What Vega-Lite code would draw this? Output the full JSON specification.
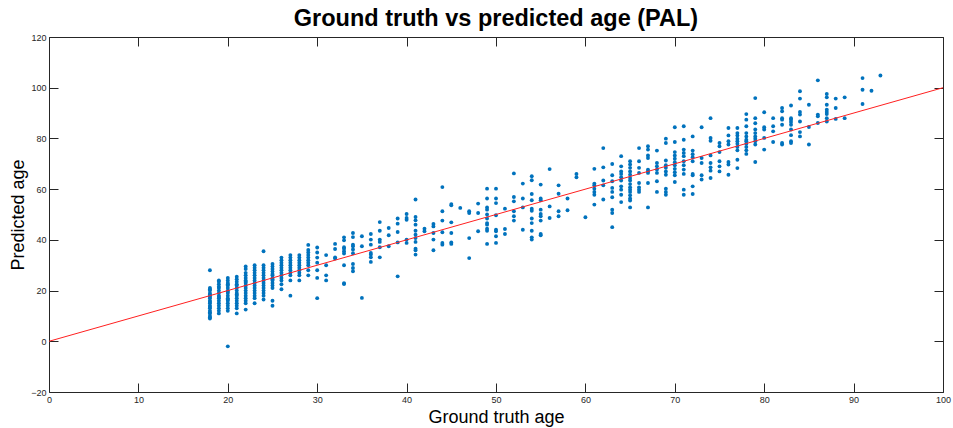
{
"$schema": "https://vega.github.io/schema/vega-lite/v6.json",
"width": 894, "height": 355,
"autosize": {"type": "none"},
"padding": {"left": 49, "top": 37, "right": 10, "bottom": 36},
"background": "white",
"title": {"text": "Ground truth vs predicted age (PAL)", "font": "Liberation Sans", "fontSize": 23.5, "fontWeight": "bold", "color": "black", "anchor": "middle", "offset": 3},
"config": {
  "view": {"stroke": "#262626", "strokeWidth": 1},
  "axis": {"grid": false, "domain": false, "tickColor": "#262626", "labelColor": "#262626", "labelFont": "Liberation Sans", "labelFontSize": 9, "labelFlush": false, "labelOverlap": false, "titleFont": "Liberation Sans", "titleFontSize": 18, "titleFontWeight": "normal", "titleColor": "black", "tickSize": -9}
},
"layer": [
  {
    "data": {"values": [
{"a":18,"p":28},{"a":18,"p":21},{"a":18,"p":20.5},{"a":18,"p":20},{"a":18,"p":19},{"a":18,"p":18.5},{"a":18,"p":18},{"a":18,"p":17.5},{"a":18,"p":17},{"a":18,"p":16},{"a":18,"p":15.5},{"a":18,"p":15},{"a":18,"p":14},{"a":18,"p":13.5},{"a":18,"p":13},{"a":18,"p":12},{"a":18,"p":11.5},{"a":18,"p":11},{"a":18,"p":10},{"a":18,"p":9.5},{"a":18,"p":9},
{"a":19,"p":24},{"a":19,"p":23.5},{"a":19,"p":22.5},{"a":19,"p":21.5},{"a":19,"p":21},{"a":19,"p":20},{"a":19,"p":19},{"a":19,"p":18},{"a":19,"p":17.5},{"a":19,"p":17},{"a":19,"p":16},{"a":19,"p":15},{"a":19,"p":14},{"a":19,"p":13},{"a":19,"p":12},{"a":19,"p":11},
{"a":20,"p":25},{"a":20,"p":24},{"a":20,"p":23},{"a":20,"p":22.5},{"a":20,"p":22},{"a":20,"p":21},{"a":20,"p":20},{"a":20,"p":19.5},{"a":20,"p":19},{"a":20,"p":18},{"a":20,"p":17},{"a":20,"p":16.5},{"a":20,"p":16},{"a":20,"p":15},{"a":20,"p":14},{"a":20,"p":13},{"a":20,"p":12},{"a":20,"p":-2},
{"a":21,"p":25.5},{"a":21,"p":24.5},{"a":21,"p":23.5},{"a":21,"p":22.5},{"a":21,"p":22},{"a":21,"p":21},{"a":21,"p":20},{"a":21,"p":19},{"a":21,"p":18.5},{"a":21,"p":18},{"a":21,"p":17},{"a":21,"p":16},{"a":21,"p":15},{"a":21,"p":14},{"a":21,"p":13},{"a":21,"p":11},
{"a":22,"p":29.5},{"a":22,"p":28.5},{"a":22,"p":27},{"a":22,"p":26},{"a":22,"p":25},{"a":22,"p":24},{"a":22,"p":23.5},{"a":22,"p":23},{"a":22,"p":22},{"a":22,"p":21},{"a":22,"p":20},{"a":22,"p":19},{"a":22,"p":18},{"a":22,"p":17},{"a":22,"p":16},{"a":22,"p":15},{"a":22,"p":12.5},
{"a":23,"p":30},{"a":23,"p":29},{"a":23,"p":28},{"a":23,"p":27},{"a":23,"p":26},{"a":23,"p":25},{"a":23,"p":24},{"a":23,"p":23},{"a":23,"p":22},{"a":23,"p":21},{"a":23,"p":20},{"a":23,"p":19},{"a":23,"p":18},{"a":23,"p":17},{"a":23,"p":15},
{"a":24,"p":35.5},{"a":24,"p":30},{"a":24,"p":29},{"a":24,"p":28},{"a":24,"p":27},{"a":24,"p":26},{"a":24,"p":25},{"a":24,"p":24},{"a":24,"p":23},{"a":24,"p":22},{"a":24,"p":21},{"a":24,"p":20},{"a":24,"p":19},{"a":24,"p":18},{"a":24,"p":16.5},
{"a":25,"p":30.5},{"a":25,"p":29.5},{"a":25,"p":28.5},{"a":25,"p":27.5},{"a":25,"p":26.5},{"a":25,"p":26},{"a":25,"p":25},{"a":25,"p":24.5},{"a":25,"p":24},{"a":25,"p":23},{"a":25,"p":22},{"a":25,"p":21},{"a":25,"p":16},{"a":25,"p":14},
{"a":26,"p":33},{"a":26,"p":32},{"a":26,"p":31},{"a":26,"p":30},{"a":26,"p":29},{"a":26,"p":28},{"a":26,"p":27},{"a":26,"p":26},{"a":26,"p":25},{"a":26,"p":24},{"a":26,"p":22.5},{"a":26,"p":20.5},
{"a":27,"p":34},{"a":27,"p":33},{"a":27,"p":32},{"a":27,"p":31},{"a":27,"p":30},{"a":27,"p":29},{"a":27,"p":28},{"a":27,"p":27},{"a":27,"p":26},{"a":27,"p":24},{"a":27,"p":18},
{"a":28,"p":34},{"a":28,"p":33},{"a":28,"p":32},{"a":28,"p":31},{"a":28,"p":30},{"a":28,"p":29},{"a":28,"p":28},{"a":28,"p":27},{"a":28,"p":26},{"a":28,"p":24},
{"a":29,"p":38},{"a":29,"p":36},{"a":29,"p":35},{"a":29,"p":34},{"a":29,"p":33},{"a":29,"p":32},{"a":29,"p":31},{"a":29,"p":30},{"a":29,"p":28},{"a":29,"p":26},
{"a":30,"p":37},{"a":30,"p":35},{"a":30,"p":33},{"a":30,"p":31},{"a":30,"p":28},{"a":30,"p":25},{"a":30,"p":17},
{"a":31,"p":34},{"a":31,"p":30},{"a":31,"p":26},{"a":31,"p":24},
{"a":32,"p":38.4},{"a":32,"p":36.4},{"a":32,"p":33.1},{"a":32,"p":32.6},
{"a":33,"p":41},{"a":33,"p":39.8},{"a":33,"p":37.1},{"a":33,"p":36.5},{"a":33,"p":35.5},{"a":33,"p":34.6},{"a":33,"p":30},{"a":33,"p":22.9},{"a":33,"p":22.6},
{"a":34,"p":42.7},{"a":34,"p":41.1},{"a":34,"p":38.1},{"a":34,"p":37.5},{"a":34,"p":36.2},{"a":34,"p":34.7},{"a":34,"p":30.5},{"a":34,"p":28.9},{"a":34,"p":27.6},
{"a":35,"p":41.4},{"a":35,"p":37.5},{"a":35,"p":17.1},
{"a":36,"p":42.3},{"a":36,"p":40.1},{"a":36,"p":38.1},{"a":36,"p":34.8},{"a":36,"p":34.2},{"a":36,"p":33.1},{"a":36,"p":31.3},
{"a":37,"p":47},{"a":37,"p":43.6},{"a":37,"p":40.1},{"a":37,"p":39.2},{"a":37,"p":37.1},{"a":37,"p":33.1},
{"a":38,"p":44.7},{"a":38,"p":41.8},{"a":38,"p":37.5},
{"a":39,"p":48.4},{"a":39,"p":46.4},{"a":39,"p":43.1},{"a":39,"p":39},{"a":39,"p":25.6},
{"a":40,"p":50.2},{"a":40,"p":48.6},{"a":40,"p":47.9},{"a":40,"p":40.1},{"a":40,"p":38.8},
{"a":41,"p":55.9},{"a":41,"p":49},{"a":41,"p":47.7},{"a":41,"p":46},{"a":41,"p":43.6},{"a":41,"p":42},{"a":41,"p":40.7},{"a":41,"p":39.2},{"a":41,"p":36.5},{"a":41,"p":35.9},{"a":41,"p":34.2},
{"a":42,"p":44.4},{"a":42,"p":43.4},
{"a":43,"p":46.3},{"a":43,"p":45.3},{"a":43,"p":42.7},{"a":43,"p":40.1},{"a":43,"p":35.9},
{"a":44,"p":60.8},{"a":44,"p":51.3},{"a":44,"p":47.6},{"a":44,"p":43},{"a":44,"p":38.8},{"a":44,"p":38.1},
{"a":45,"p":54.1},{"a":45,"p":53.6},{"a":45,"p":46.9},{"a":45,"p":42.7},{"a":45,"p":39},{"a":45,"p":38.4},
{"a":46,"p":52.6},
{"a":47,"p":51.3},{"a":47,"p":50.6},{"a":47,"p":40.7},{"a":47,"p":32.8},
{"a":48,"p":54.3},{"a":48,"p":50.6},{"a":48,"p":43.4},
{"a":49,"p":60.2},{"a":49,"p":56.3},{"a":49,"p":52.8},{"a":49,"p":51.9},{"a":49,"p":50},{"a":49,"p":48.4},{"a":49,"p":46.6},{"a":49,"p":46},{"a":49,"p":44.4},{"a":49,"p":43.6},{"a":49,"p":38.4},
{"a":50,"p":60.2},{"a":50,"p":56.3},{"a":50,"p":54.5},{"a":50,"p":49.7},{"a":50,"p":44},{"a":50,"p":43.4},{"a":50,"p":41.4},{"a":50,"p":38.8},
{"a":51,"p":52.3},{"a":51,"p":44.3},{"a":51,"p":42.3},
{"a":52,"p":66.2},{"a":52,"p":56.9},{"a":52,"p":55.2},{"a":52,"p":51.3},{"a":52,"p":49.3},{"a":52,"p":47.6},
{"a":53,"p":62.2},{"a":53,"p":56.3},{"a":53,"p":52.8},{"a":53,"p":44},
{"a":54,"p":65.1},{"a":54,"p":63.5},{"a":54,"p":58.1},{"a":54,"p":55.6},{"a":54,"p":52.3},{"a":54,"p":51.5},{"a":54,"p":48.4},{"a":54,"p":46.6},{"a":54,"p":43.6},{"a":54,"p":41},{"a":54,"p":40.1},
{"a":55,"p":61.8},{"a":55,"p":56.3},{"a":55,"p":55.6},{"a":55,"p":51.9},{"a":55,"p":50.2},{"a":55,"p":49.3},{"a":55,"p":47.6},{"a":55,"p":42.3},{"a":55,"p":41.8},
{"a":56,"p":67.9},{"a":56,"p":53.2},{"a":56,"p":48.6},
{"a":57,"p":61.5},{"a":57,"p":58.2},{"a":57,"p":51.3},{"a":57,"p":49.3},
{"a":58,"p":56.3},{"a":58,"p":51.7},
{"a":59,"p":66},{"a":59,"p":64.7},
{"a":60,"p":48.9},
{"a":61,"p":68},{"a":61,"p":62.2},{"a":61,"p":61.5},{"a":61,"p":60.2},{"a":61,"p":58.9},{"a":61,"p":57.8},{"a":61,"p":53.9},
{"a":62,"p":76.2},{"a":62,"p":68.6},{"a":62,"p":63.4},{"a":62,"p":61.5},{"a":62,"p":55.9},
{"a":63,"p":69.9},{"a":63,"p":65.5},{"a":63,"p":63.1},{"a":63,"p":60.5},{"a":63,"p":58.9},{"a":63,"p":56.8},{"a":63,"p":51.9},{"a":63,"p":50.6},{"a":63,"p":45},
{"a":64,"p":73},{"a":64,"p":69},{"a":64,"p":67},{"a":64,"p":66},{"a":64,"p":64.7},{"a":64,"p":63.4},{"a":64,"p":61.1},{"a":64,"p":59.8},{"a":64,"p":57.8},{"a":64,"p":54.9},
{"a":65,"p":71},{"a":65,"p":69.7},{"a":65,"p":68.4},{"a":65,"p":67},{"a":65,"p":65.7},{"a":65,"p":64.4},{"a":65,"p":63.4},{"a":65,"p":62},{"a":65,"p":60.7},{"a":65,"p":59.8},{"a":65,"p":58.9},{"a":65,"p":57.6},{"a":65,"p":56.3},{"a":65,"p":55.5},{"a":65,"p":52.8},
{"a":66,"p":76.2},{"a":66,"p":71},{"a":66,"p":68.4},{"a":66,"p":66.4},{"a":66,"p":62.4},{"a":66,"p":60.7},{"a":66,"p":59.8},{"a":66,"p":58.9},
{"a":67,"p":76.9},{"a":67,"p":75.6},{"a":67,"p":73.3},{"a":67,"p":72.3},{"a":67,"p":67.7},{"a":67,"p":67},{"a":67,"p":66.4},{"a":67,"p":62.4},{"a":67,"p":52.8},
{"a":68,"p":75.2},{"a":68,"p":70.3},{"a":68,"p":69},{"a":68,"p":67.7},{"a":68,"p":66.4},{"a":68,"p":63.1},{"a":68,"p":58.9},
{"a":69,"p":79.9},{"a":69,"p":78.2},{"a":69,"p":71.3},{"a":69,"p":69.4},{"a":69,"p":68.4},{"a":69,"p":67},{"a":69,"p":65.7},{"a":69,"p":60.2},{"a":69,"p":58.9},{"a":69,"p":57.8},
{"a":70,"p":84.4},{"a":70,"p":78.6},{"a":70,"p":74.6},{"a":70,"p":73.3},{"a":70,"p":72},{"a":70,"p":70.6},{"a":70,"p":69.4},{"a":70,"p":68},{"a":70,"p":66.7},{"a":70,"p":65.5},{"a":70,"p":62.8},
{"a":71,"p":84.8},{"a":71,"p":79.5},{"a":71,"p":75.6},{"a":71,"p":74.3},{"a":71,"p":73},{"a":71,"p":71},{"a":71,"p":69.4},{"a":71,"p":67.7},{"a":71,"p":66},{"a":71,"p":59.8},{"a":71,"p":57.8},
{"a":72,"p":80.8},{"a":72,"p":75.2},{"a":72,"p":73.8},{"a":72,"p":72.6},{"a":72,"p":71},{"a":72,"p":66},{"a":72,"p":65.5},{"a":72,"p":61.1},{"a":72,"p":58.1},
{"a":73,"p":84.4},{"a":73,"p":72.3},{"a":73,"p":70.3},{"a":73,"p":65.5},{"a":73,"p":63.8},
{"a":74,"p":88},{"a":74,"p":80.2},{"a":74,"p":79.1},{"a":74,"p":73.3},{"a":74,"p":70.3},{"a":74,"p":68.6},{"a":74,"p":67.3},{"a":74,"p":64.4},
{"a":75,"p":78.2},{"a":75,"p":76.9},{"a":75,"p":74.6},{"a":75,"p":71},{"a":75,"p":69},{"a":75,"p":67},
{"a":76,"p":84.1},{"a":76,"p":81.2},{"a":76,"p":78.9},{"a":76,"p":77.6},{"a":76,"p":70.7},{"a":76,"p":69.7},{"a":76,"p":65.7},
{"a":77,"p":84.1},{"a":77,"p":82.1},{"a":77,"p":81.2},{"a":77,"p":79.9},{"a":77,"p":78.9},{"a":77,"p":77.9},{"a":77,"p":76.6},{"a":77,"p":75.3},{"a":77,"p":71.6},{"a":77,"p":68.3},
{"a":78,"p":89.6},{"a":78,"p":87.4},{"a":78,"p":84.8},{"a":78,"p":82.1},{"a":78,"p":80.8},{"a":78,"p":79.5},{"a":78,"p":78.9},{"a":78,"p":77.9},{"a":78,"p":76.6},{"a":78,"p":75.3},{"a":78,"p":73.9},
{"a":79,"p":95.9},{"a":79,"p":88},{"a":79,"p":86},{"a":79,"p":83.5},{"a":79,"p":82.1},{"a":79,"p":80.8},{"a":79,"p":79.9},{"a":79,"p":78.9},{"a":79,"p":77.6},{"a":79,"p":70.7},
{"a":80,"p":90.3},{"a":80,"p":84.4},{"a":80,"p":83.5},{"a":80,"p":80.2},{"a":80,"p":75.6},
{"a":81,"p":88},{"a":81,"p":84.8},{"a":81,"p":82.8},{"a":81,"p":78.6},
{"a":82,"p":92},{"a":82,"p":90.7},{"a":82,"p":88},{"a":82,"p":87.4},{"a":82,"p":85.4},{"a":82,"p":78.2},{"a":82,"p":77.6},
{"a":83,"p":93},{"a":83,"p":88},{"a":83,"p":87.4},{"a":83,"p":86.5},{"a":83,"p":85.4},{"a":83,"p":83.5},{"a":83,"p":81.3},{"a":83,"p":78.9},{"a":83,"p":78.2},
{"a":84,"p":98.6},{"a":84,"p":95.7},{"a":84,"p":90.4},{"a":84,"p":89.4},{"a":84,"p":86.7},{"a":84,"p":82.5},{"a":84,"p":80.8},
{"a":85,"p":93.3},{"a":85,"p":84.5},{"a":85,"p":77.6},
{"a":86,"p":102.9},{"a":86,"p":89.4},{"a":86,"p":88.7},{"a":86,"p":86.1},
{"a":87,"p":97.5},{"a":87,"p":96.2},{"a":87,"p":93.3},{"a":87,"p":91.3},{"a":87,"p":90.4},{"a":87,"p":89.6},{"a":87,"p":88},{"a":87,"p":86.7},
{"a":88,"p":95.7},{"a":88,"p":92},{"a":88,"p":87.7},
{"a":89,"p":96.2},{"a":89,"p":88},
{"a":91,"p":103.8},{"a":91,"p":99.2},{"a":91,"p":93.6},
{"a":92,"p":98.8},
{"a":93,"p":104.8}
    ]},
    "mark": {"type": "point", "filled": true, "shape": "circle", "size": 15, "color": "#0072BD", "opacity": 1},
    "encoding": {
      "x": {"field": "a", "type": "quantitative", "scale": {"domain": [0, 100], "nice": false, "zero": false},
            "axis": {"title": "Ground truth age", "values": [0,10,20,30,40,50,60,70,80,90,100], "labelPadding": 12, "titleBaseline": "alphabetic", "titleY": 30}},
      "y": {"field": "p", "type": "quantitative", "scale": {"domain": [-20, 120], "nice": false, "zero": false},
            "axis": {"title": "Predicted age", "values": [-20,0,20,40,60,80,100,120], "labelPadding": 12, "titlePadding": 3}}
    }
  },
  {
    "data": {"values": [{"a": 0, "p": 0}, {"a": 100, "p": 100}]},
    "mark": {"type": "line", "color": "#ff2020", "strokeWidth": 1},
    "encoding": {
      "x": {"field": "a", "type": "quantitative", "axis": {"orient": "top", "labels": false, "title": null, "values": [0,10,20,30,40,50,60,70,80,90,100]}},
      "y": {"field": "p", "type": "quantitative", "axis": {"orient": "right", "labels": false, "title": null, "values": [-20,0,20,40,60,80,100,120]}}
    }
  }
],
"resolve": {"axis": {"x": "independent", "y": "independent"}}
}
